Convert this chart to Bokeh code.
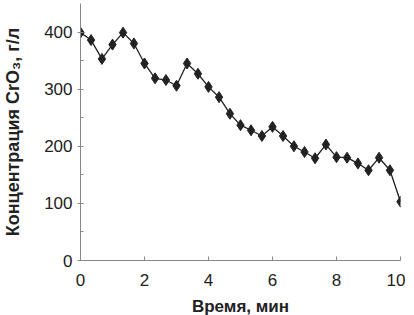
from bokeh.plotting import figure
from bokeh.models import FixedTicker, Range1d
from bokeh.embed import file_html
from bokeh.resources import INLINE

time_min = [0, 0.33, 0.67, 1, 1.33, 1.67, 2, 2.33, 2.67, 3, 3.33, 3.67, 4, 4.33,
            4.67, 5, 5.33, 5.67, 6, 6.33, 6.67, 7, 7.33, 7.67, 8, 8.33, 8.67, 9,
            9.33, 9.67, 10]
conc = [399, 386, 353, 378, 399, 380, 345, 319, 316, 306, 345, 327, 304, 286,
        257, 237, 228, 218, 234, 218, 200, 190, 179, 203, 181, 180, 170, 158,
        180, 158, 103]
x_ticks = [0, 2, 4, 6, 8, 10]
y_ticks = [0, 100, 200, 300, 400]
y_minor = [50, 150, 250, 350]

p = figure(frame_width=320, frame_height=257, output_backend="svg",
           toolbar_location=None,
           x_range=Range1d(0, 10), y_range=Range1d(0, 450),
           min_border_left=77, min_border_right=5, min_border_top=3,
           min_border_bottom=45)
p.outline_line_color = None
p.xgrid.visible = False
p.ygrid.visible = False
p.background_fill_color = "white"
p.border_fill_color = "white"

p.line(time_min, conc, line_color="#222222", line_width=1.3)
p.scatter(time_min, conc, marker="diamond", size=11, fill_color="#222222",
          line_color="#222222")

ax = p.xaxis[0]
ax.ticker = FixedTicker(ticks=x_ticks)
ax.axis_label = "Время, мин"
ay = p.yaxis[0]
ay.ticker = FixedTicker(ticks=y_ticks, minor_ticks=y_minor)
ay.axis_label = "Концентрация CrO₃, г/л"

for a in (ax, ay):
    a.axis_line_color = "#888888"
    a.major_tick_line_color = "#888888"
    a.minor_tick_line_color = "#888888"
    a.major_label_text_font = "Liberation Sans"
    a.major_label_text_font_size = "17px"
    a.major_label_text_color = "#222222"
    a.axis_label_text_font = "Liberation Sans"
    a.axis_label_text_font_style = "bold"
    a.axis_label_text_color = "#222222"

ax.axis_label_text_font_size = "17px"
ay.axis_label_text_font_size = "18px"

ax.major_tick_in = 4
ax.major_tick_out = 0
ax.minor_tick_in = 0
ax.minor_tick_out = 0
ax.major_label_standoff = 13
ax.axis_label_standoff = 8

ay.major_tick_in = 3
ay.major_tick_out = 3
ay.minor_tick_in = 3
ay.minor_tick_out = 0
ay.major_label_standoff = 5
ay.axis_label_standoff = 18

open("out.html", "w").write(file_html(p, INLINE))
